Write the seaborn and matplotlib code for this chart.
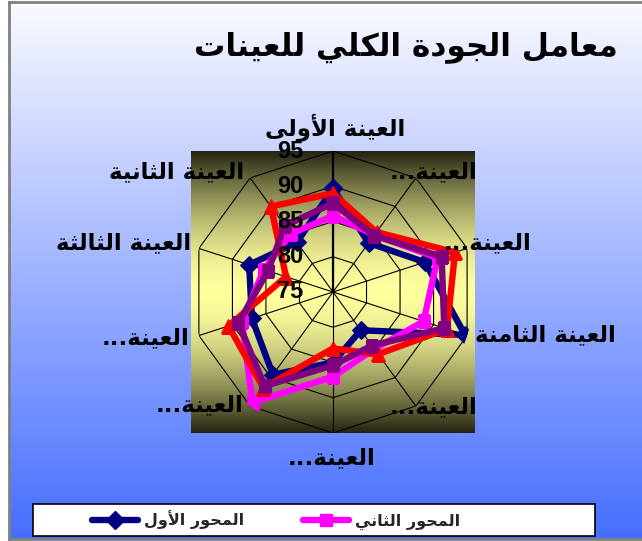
import numpy as np
import pandas as pd
import matplotlib
matplotlib.use("Agg")
import matplotlib.pyplot as plt
import matplotlib.transforms as mtransforms
from matplotlib.patches import Rectangle
from matplotlib.lines import Line2D
import seaborn as sns

# ---------------- data ----------------
title = "معامل الجودة الكلي للعينات"
categories = ["العينة الأولى", "العينة الثانية", "العينة الثالثة", "العينة...",
              "العينة...", "العينة...", "العينة...", "العينة الثامنة",
              "العينة...", "العينة..."]
series_names = ["المحور الأول", "المحور الثاني", "المحور الثالث", "المحور الرابع"]
axis1 = [89.7, 83.7, 87.5, 87.1, 89.5, 85.0, 81.7, 94.7, 88.7, 83.6]
axis2 = [85.8, 85.2, 85.3, 88.6, 94.4, 87.0, 85.0, 88.5, 90.6, 85.0]
axis3 = [89.0, 90.0, 82.0, 90.6, 91.8, 83.0, 85.9, 92.0, 93.2, 85.5]
axis4 = [87.6, 86.6, 84.7, 89.1, 91.5, 85.4, 84.4, 91.6, 91.2, 84.9]
ticks = [75, 80, 85, 90, 95]

# ---------------- Arabic shaping (presentation forms, visual order) ----------------
FORMS = {
    'ا': ('\uFE8D', '\uFE8E', None, None),
    'أ': ('\uFE83', '\uFE84', None, None),
    'ة': ('\uFE93', '\uFE94', None, None),
    'ت': ('\uFE95', '\uFE96', '\uFE97', '\uFE98'),
    'ث': ('\uFE99', '\uFE9A', '\uFE9B', '\uFE9C'),
    'ج': ('\uFE9D', '\uFE9E', '\uFE9F', '\uFEA0'),
    'ح': ('\uFEA1', '\uFEA2', '\uFEA3', '\uFEA4'),
    'د': ('\uFEA9', '\uFEAA', None, None),
    'ر': ('\uFEAD', '\uFEAE', None, None),
    'ع': ('\uFEC9', '\uFECA', '\uFECB', '\uFECC'),
    'ك': ('\uFED9', '\uFEDA', '\uFEDB', '\uFEDC'),
    'ل': ('\uFEDD', '\uFEDE', '\uFEDF', '\uFEE0'),
    'م': ('\uFEE1', '\uFEE2', '\uFEE3', '\uFEE4'),
    'ن': ('\uFEE5', '\uFEE6', '\uFEE7', '\uFEE8'),
    'و': ('\uFEED', '\uFEEE', None, None),
    'ى': ('\uFEEF', '\uFEF0', '\uFBE8', '\uFBE9'),
    'ي': ('\uFEF1', '\uFEF2', '\uFEF3', '\uFEF4'),
}
LAM_ALEF = {'ا': ('\uFEFB', '\uFEFC'), 'أ': ('\uFEF7', '\uFEF8')}


def _dual(c):
    return c in FORMS and FORMS[c][2] is not None


def ar(s):
    out = []
    i = 0
    while i < len(s):
        c = s[i]
        if c not in FORMS:
            out.append(c)
            i += 1
            continue
        jp = i > 0 and _dual(s[i - 1])
        if c == 'ل' and i + 1 < len(s) and s[i + 1] in LAM_ALEF:
            out.append(LAM_ALEF[s[i + 1]][1 if jp else 0])
            i += 2
            continue
        nxt = s[i + 1] if i + 1 < len(s) else ''
        jn = _dual(c) and nxt in FORMS
        f = FORMS[c]
        if jp and jn:
            g = f[3]
        elif jp:
            g = f[1]
        elif jn:
            g = f[2]
        else:
            g = f[0]
        out.append(g)
        i += 1
    return ''.join(reversed(out))


# ---------------- figure ----------------
sns.set_theme(style="white")
plt.rcParams['font.family'] = ['DejaVu Sans']
W, H = 642, 541
fig = plt.figure(figsize=(W / 100, H / 100), dpi=100)
fig.patch.set_facecolor("white")


def fx(px):
    return px / W


def fy(py):
    return 1 - py / H


# chart-area background: vertical white -> blue gradient with grey frame
bg = fig.add_axes([fx(9), fy(539), fx(642 - 9), (539 - 2) / H], zorder=-2)
t = np.linspace(0, 1, 256)[:, None]
top_c = np.array([250, 250, 255]) / 255
bot_c = np.array([70, 110, 255]) / 255
grad = top_c[None, None, :] * (1 - t[..., None]) + bot_c[None, None, :] * t[..., None]
grad = np.repeat(grad, 2, axis=1)
bg.imshow(grad, aspect="auto", extent=[0, 1, 0, 1], origin="upper")
bg.set_xlim(0, 1)
bg.set_ylim(0, 1)
bg.set_xticks([])
bg.set_yticks([])
for side, sp in bg.spines.items():
    sp.set_color("#808080")
    sp.set_linewidth(2)
bg.spines["right"].set_visible(False)

# plot-area fill: dark olive -> pale yellow -> dark olive
pa = fig.add_axes([fx(191), fy(433), fx(475 - 191), (433 - 151) / H], zorder=-1)
dark = np.array([36, 36, 18]) / 255
light = np.array([255, 255, 158]) / 255
u = np.abs(np.linspace(-1, 1, 256))[:, None, None] ** 1.7
pgrad = light[None, None, :] * (1 - u) + dark[None, None, :] * u
pgrad = np.repeat(pgrad, 2, axis=1)
pa.imshow(pgrad, aspect="auto", extent=[0, 1, 0, 1], origin="upper")
pa.set_axis_off()

# radar axes
cx, cy, R = 333, 292, 141
ax = fig.add_axes([fx(cx - R), fy(cy + R), fx(2 * R), 2 * R / H], projection="polar", zorder=1)
ax.set_facecolor("none")
ax.patch.set_alpha(0)
ax.set_theta_zero_location("N")
ax.set_theta_direction(1)
ax.set_ylim(ticks[0], ticks[-1])
ax.grid(False)
ax.set_xticks([])
ax.set_yticks([])
ax.spines["polar"].set_visible(False)

n = len(categories)
angles = np.arange(n) * 2 * np.pi / n
closed = np.append(angles, angles[0])

# decagon rings and spokes
for v in ticks[1:]:
    ax.plot(closed, [v] * (n + 1), color="black", lw=0.8, zorder=2)
for a in angles:
    ax.plot([a, a], [ticks[0], ticks[-1]], color="black", lw=0.8, zorder=2)
ax.plot([0, 0], [ticks[0], ticks[-1]], color="black", lw=1.6, zorder=2)

styles = [
    dict(color="#000080", marker="D", markersize=9.5),
    dict(color="#FF00FF", marker="s", markersize=9),
    dict(color="#FF0000", marker="^", markersize=10),
    dict(color="#800080", marker="s", markersize=9),
]
for name, vals, st in zip(series_names, [axis1, axis2, axis3, axis4], styles):
    df = pd.DataFrame({"theta": closed, "value": list(vals) + [vals[0]]})
    sns.lineplot(data=df, x="theta", y="value", ax=ax, sort=False, estimator=None,
                 color=st["color"], lw=4.6, marker=st["marker"],
                 markersize=st["markersize"], markeredgecolor=st["color"],
                 markerfacecolor=st["color"], zorder=3)
ax.set_xlabel("")
ax.set_ylabel("")
ax.set_ylim(ticks[0], ticks[-1])

# radial tick labels to the left of the vertical axis
off = mtransforms.offset_copy(ax.transData, fig=fig, x=-30, y=0, units="dots")
for v in ticks:
    ax.text(0, v, str(v), transform=off, ha="right", va="center",
            fontsize=17, fontweight="bold", family=["Liberation Sans", "DejaVu Sans"],
            color="black", zorder=4)

# category labels
label_pos = [(335, 127), (177, 172), (124, 243), (146, 338), (200, 405),
             (332, 458), (434, 407), (545, 335), (488, 243), (434, 172)]
for lab, (px, py) in zip(categories, label_pos):
    fig.text(fx(px), fy(py), ar(lab), ha="center", va="center", fontsize=16.5,
             fontweight="bold", color="black", zorder=10)

# title
fig.text(fx(406), fy(47), ar(title), ha="center", va="center", fontsize=22.5,
         fontweight="bold", color="black", zorder=10)

# legend
fig.patches.append(Rectangle((fx(33), fy(536)), fx(595 - 33), 32 / H,
                             transform=fig.transFigure, facecolor="white",
                             edgecolor="black", lw=1.2, zorder=2))
handles = [Line2D([], [], color=styles[i]["color"], lw=4.6, marker=styles[i]["marker"],
                  markersize=styles[i]["markersize"]) for i in range(2)]
fig.legend(handles, [ar(series_names[0]), ar(series_names[1])], ncol=2,
           loc="center", bbox_to_anchor=(fx(276), fy(520)), frameon=False,
           prop=dict(size=11.5, weight="bold"), handlelength=2.9, columnspacing=3.7,
           handletextpad=0.35)

fig.savefig("out.png", dpi=100)
